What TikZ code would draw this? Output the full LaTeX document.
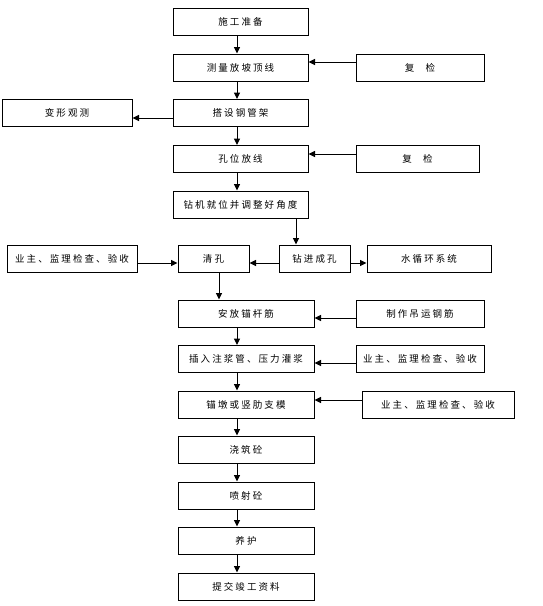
\documentclass[tikz,border=0pt]{standalone}
\usepackage{fontspec}
\newfontfamily\cjk[LetterSpace=22]{Noto Sans CJK SC}
\usetikzlibrary{arrows.meta}

\tikzset{
  box/.style={draw, line width=1pt, minimum height=27, inner sep=0pt,
    font=\cjk\fontsize{9.5}{11}\selectfont},
  flow/.style={-{Triangle[length=6.5pt, width=6pt]}, line width=1pt},
}

\begin{document}
\begin{tikzpicture}[x=1pt, y=-1pt]
\useasboundingbox (0,0) rectangle (543,606);
% main column
\node[box, minimum width=135] (zb) at (240.5,22) {施工准备};
\node[box, minimum width=135] (cl) at (240.5,67.5) {测量放坡顶线};
\node[box, minimum width=135] (dj) at (240.5,113) {搭设钢管架};
\node[box, minimum width=135] (kw) at (240.5,159) {孔位放线};
\node[box, minimum width=135] (zj) at (240.5,204.5) {钻机就位并调整好角度};
\node[box, minimum width=71] (qk) at (213.5,258.5) {清孔};
\node[box, minimum width=71] (zc) at (314.5,258.5) {钻进成孔};
\node[box, minimum width=136] (af) at (246,313.5) {安放锚杆筋};
\node[box, minimum width=136] (cr) at (246,359) {插入注浆管、压力灌浆};
\node[box, minimum width=136] (md) at (246,404.5) {锚墩或竖肋支模};
\node[box, minimum width=136] (jz) at (246,449.5) {浇筑砼};
\node[box, minimum width=136] (pc) at (246,495.5) {喷射砼};
\node[box, minimum width=136] (yh) at (246,540.5) {养护};
\node[box, minimum width=136] (tj) at (246,586.5) {提交竣工资料};
% side boxes
\node[box, minimum width=128] (fj1) at (420,67.5) {复\hspace{1.2em}检};
\node[box, minimum width=130] (bx) at (67,113) {变形观测};
\node[box, minimum width=123] (fj2) at (417.5,159) {复\hspace{1.2em}检};
\node[box, minimum width=130] (yz0) at (72,258.5) {业主、监理检查、验收};
\node[box, minimum width=124] (sx) at (429,258.5) {水循环系统};
\node[box, minimum width=128] (zz) at (420,313.5) {制作吊运钢筋};
\node[box, minimum width=128] (yz1) at (420,359) {业主、监理检查、验收};
\node[box, minimum width=152] (yz2) at (438,404.5) {业主、监理检查、验收};

\coordinate (mid) at (237,0);
\foreach \a/\b in {zb/cl, cl/dj, dj/kw, kw/zj, af/cr, cr/md, md/jz, jz/pc, pc/yh, yh/tj}
  \draw[flow] (\a.south -| mid) -- (\b.north -| mid);

\draw[flow] ([yshift=5.5]fj1.west) -- ([yshift=5.5]cl.east);
\draw[flow] ([yshift=-5]dj.west) -- ([yshift=-5]bx.east);
\draw[flow] ([yshift=5]fj2.west) -- ([yshift=5]kw.east);
\coordinate (zx) at (296,0);
\draw[flow] (zj.south -| zx) -- (zc.north -| zx);
\draw[flow] ([yshift=-4.5]zc.west) -- ([yshift=-4.5]qk.east);
\draw[flow] ([yshift=-4.5]zc.east) -- ([yshift=-4.5]sx.west);
\draw[flow] ([yshift=-4.5]yz0.east) -- ([yshift=-4.5]qk.west);
\coordinate (qx) at (219,0);
\draw[flow] (qk.south -| qx) -- (af.north -| qx);
\draw[flow] ([yshift=-4.5]zz.west) -- ([yshift=-4.5]af.east);
\draw[flow] ([yshift=-4]yz1.west) -- ([yshift=-4]cr.east);
\draw[flow] ([yshift=4.5]yz2.west) -- ([yshift=4.5]md.east);
\end{tikzpicture}
\end{document}
